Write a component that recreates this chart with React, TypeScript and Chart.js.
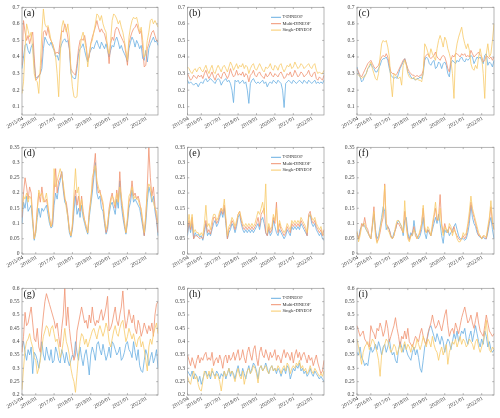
import React, { useEffect, useRef } from 'react';
import { Chart, registerables } from 'chart.js';
Chart.register(...registerables);

// ---------- categories ----------
const MONTHS: string[] = (() => {
  const out: string[] = [];
  for (let y = 2015; y <= 2022; y++) {
    for (let m = 1; m <= 12; m++) {
      if (y === 2015 && m < 4) continue;
      if (y === 2022 && m > 9) continue;
      out.push(`${y}/${String(m).padStart(2, '0')}`);
    }
  }
  return out;
})();
const X_TICK_LABELS = ['2015/04', '2016/01', '2017/01', '2018/01', '2019/01', '2020/01', '2021/01', '2022/01'];

const Y_TICKS_ROW1 = [0.1, 0.2, 0.3, 0.4, 0.5, 0.6, 0.7];
const Y_TICKS_ROW2 = [0, 0.05, 0.1, 0.15, 0.2, 0.25, 0.3, 0.35];
const Y_TICKS_ROW3 = [0.2, 0.25, 0.3, 0.35, 0.4, 0.45, 0.5, 0.55, 0.6];

const SERIES_NAMES = ['T-DINEOF', 'Multi-DINEOF', 'Single-DINEOF'];

// ---------- panel (a) ----------
const aT = [0.33,0.40,0.47,0.48,0.44,0.42,0.46,0.48,0.36, 0.27,0.28,0.28,0.30,0.33,0.45,0.52,0.50,0.48, 0.47,0.49,0.46,0.44,0.40,0.41,0.38,0.45,0.48, 0.50,0.51,0.49,0.50,0.45,0.30,0.28,0.27,0.27, 0.33,0.42,0.45,0.46,0.48,0.44,0.40,0.37,0.42, 0.44,0.46,0.45,0.48,0.50,0.47,0.45,0.49,0.47, 0.45,0.48,0.44,0.40,0.44,0.47,0.46,0.50,0.52, 0.49,0.45,0.47,0.44,0.42,0.40,0.37,0.45,0.49, 0.52,0.50,0.46,0.50,0.48,0.45,0.47,0.39,0.38, 0.44,0.37,0.45,0.48,0.50,0.52,0.49,0.50,0.47];
const aM = [0.35,0.62,0.55,0.50,0.53,0.48,0.52,0.55,0.40, 0.26,0.27,0.29,0.30,0.40,0.55,0.56,0.53,0.58, 0.52,0.50,0.48,0.45,0.42,0.43,0.42,0.50,0.56, 0.55,0.60,0.57,0.52,0.45,0.33,0.31,0.30,0.29, 0.36,0.45,0.50,0.51,0.50,0.53,0.47,0.38,0.40, 0.48,0.52,0.55,0.58,0.62,0.58,0.55,0.57,0.55, 0.54,0.50,0.47,0.36,0.48,0.52,0.50,0.56,0.58, 0.57,0.54,0.52,0.50,0.48,0.42,0.35,0.48,0.52, 0.55,0.57,0.58,0.60,0.57,0.54,0.56,0.45,0.34, 0.35,0.45,0.48,0.52,0.55,0.56,0.53,0.50,0.49];
const aS = [0.18,0.25,0.45,0.60,0.56,0.52,0.55,0.45,0.30, 0.26,0.25,0.18,0.35,0.55,0.69,0.60,0.58,0.59, 0.55,0.50,0.48,0.44,0.40,0.30,0.16,0.40,0.58, 0.62,0.58,0.55,0.60,0.52,0.32,0.22,0.16,0.155, 0.16,0.30,0.45,0.52,0.55,0.50,0.45,0.34,0.42, 0.48,0.50,0.55,0.60,0.66,0.65,0.62,0.65,0.60, 0.57,0.55,0.45,0.42,0.50,0.62,0.66,0.65,0.63, 0.60,0.62,0.58,0.55,0.50,0.44,0.38,0.52,0.58, 0.62,0.64,0.63,0.64,0.60,0.55,0.58,0.50,0.40, 0.42,0.50,0.55,0.62,0.63,0.60,0.62,0.60,0.58];

// ---------- panel (b) ----------
const bT = [0.26,0.24,0.25,0.24,0.23,0.24,0.24,0.22,0.24, 0.25,0.24,0.26,0.27,0.25,0.26,0.27,0.26,0.25, 0.24,0.26,0.27,0.26,0.23,0.25,0.26,0.27,0.25, 0.26,0.24,0.20,0.125,0.26,0.25,0.26,0.24,0.25, 0.26,0.24,0.25,0.20,0.12,0.24,0.26,0.27,0.25, 0.24,0.25,0.24,0.25,0.26,0.24,0.25,0.22,0.24, 0.25,0.24,0.26,0.25,0.24,0.26,0.25,0.24,0.20, 0.095,0.24,0.25,0.26,0.25,0.24,0.26,0.25,0.24, 0.25,0.26,0.25,0.24,0.26,0.25,0.24,0.26,0.25, 0.24,0.25,0.26,0.24,0.25,0.24,0.25,0.24,0.26];
const bM = [0.30,0.28,0.26,0.27,0.29,0.28,0.27,0.29,0.28, 0.29,0.27,0.30,0.32,0.29,0.27,0.29,0.31,0.28, 0.26,0.29,0.30,0.28,0.27,0.30,0.31,0.29,0.27, 0.29,0.33,0.30,0.28,0.29,0.32,0.29,0.30,0.29, 0.31,0.28,0.30,0.29,0.25,0.29,0.30,0.32,0.29, 0.28,0.30,0.31,0.29,0.28,0.27,0.30,0.28,0.29, 0.31,0.29,0.28,0.30,0.29,0.28,0.30,0.31,0.29, 0.27,0.28,0.30,0.29,0.31,0.28,0.29,0.32,0.30, 0.28,0.29,0.31,0.30,0.28,0.29,0.30,0.32,0.29, 0.28,0.30,0.31,0.27,0.26,0.28,0.27,0.26,0.29];
const bS = [0.34,0.33,0.31,0.30,0.32,0.33,0.31,0.33,0.34, 0.32,0.31,0.33,0.35,0.32,0.30,0.33,0.35,0.31, 0.30,0.33,0.35,0.33,0.31,0.34,0.35,0.33,0.31, 0.34,0.37,0.35,0.32,0.34,0.36,0.33,0.35,0.34, 0.36,0.33,0.35,0.34,0.30,0.33,0.35,0.36,0.33, 0.32,0.34,0.36,0.34,0.32,0.31,0.34,0.33,0.34, 0.36,0.33,0.32,0.35,0.34,0.32,0.35,0.36,0.33, 0.31,0.33,0.35,0.34,0.36,0.33,0.34,0.37,0.35, 0.33,0.34,0.36,0.35,0.33,0.34,0.35,0.36,0.34, 0.33,0.35,0.36,0.32,0.30,0.31,0.30,0.30,0.32];

// ---------- panel (c) ----------
const cT = [0.34,0.30,0.28,0.25,0.26,0.29,0.30,0.33,0.34, 0.36,0.34,0.33,0.31,0.31,0.33,0.35,0.38,0.39, 0.39,0.40,0.38,0.33,0.29,0.28,0.27,0.28,0.27, 0.30,0.33,0.35,0.37,0.39,0.36,0.31,0.30,0.28, 0.27,0.27,0.26,0.27,0.27,0.28,0.27,0.30,0.38, 0.40,0.39,0.36,0.35,0.37,0.38,0.33,0.34,0.37, 0.36,0.33,0.36,0.37,0.35,0.30,0.28,0.36,0.38, 0.37,0.36,0.38,0.37,0.39,0.40,0.38,0.37,0.39, 0.38,0.39,0.41,0.40,0.36,0.38,0.40,0.39,0.40, 0.38,0.36,0.41,0.42,0.35,0.37,0.36,0.34,0.38];
const cM = [0.33,0.31,0.29,0.28,0.30,0.32,0.34,0.36,0.37, 0.38,0.36,0.34,0.33,0.34,0.35,0.38,0.40,0.41, 0.40,0.42,0.40,0.35,0.31,0.30,0.30,0.29,0.30, 0.32,0.34,0.36,0.38,0.39,0.36,0.33,0.31,0.30, 0.29,0.29,0.28,0.29,0.28,0.29,0.29,0.32,0.40, 0.41,0.42,0.40,0.39,0.40,0.41,0.43,0.40,0.39, 0.38,0.40,0.41,0.40,0.37,0.33,0.31,0.38,0.41, 0.40,0.42,0.42,0.41,0.40,0.42,0.41,0.42,0.40, 0.41,0.40,0.44,0.42,0.40,0.41,0.42,0.43,0.41, 0.40,0.37,0.38,0.41,0.40,0.39,0.40,0.38,0.40];
const cS = [0.30,0.29,0.28,0.27,0.28,0.28,0.30,0.33,0.35, 0.37,0.33,0.30,0.27,0.26,0.30,0.40,0.48,0.50, 0.49,0.50,0.46,0.40,0.25,0.16,0.30,0.29,0.28, 0.27,0.28,0.23,0.35,0.38,0.35,0.30,0.28,0.27, 0.27,0.28,0.26,0.27,0.26,0.26,0.25,0.30,0.48, 0.46,0.43,0.40,0.45,0.42,0.40,0.38,0.45,0.50, 0.53,0.50,0.46,0.52,0.50,0.45,0.42,0.38,0.30, 0.15,0.42,0.48,0.52,0.55,0.58,0.52,0.48,0.45, 0.48,0.44,0.36,0.33,0.32,0.35,0.33,0.40,0.45, 0.40,0.30,0.15,0.42,0.48,0.40,0.42,0.50,0.60];

// ---------- panel (d) ----------
const dT = [0.10,0.17,0.15,0.19,0.14,0.15,0.16,0.10,0.045, 0.07,0.12,0.15,0.12,0.15,0.14,0.15,0.16,0.13,0.10,0.085, 0.09,0.16,0.20,0.18,0.22,0.24,0.27,0.21,0.17,0.16,0.12,0.07, 0.055,0.08,0.14,0.19,0.13,0.15,0.12,0.16,0.12,0.10,0.08,0.065, 0.12,0.16,0.20,0.25,0.30,0.20,0.18,0.19,0.15,0.14,0.10,0.065, 0.08,0.13,0.16,0.17,0.15,0.13,0.18,0.15,0.24,0.16,0.12,0.09,0.065, 0.10,0.15,0.17,0.21,0.17,0.18,0.17,0.16,0.15,0.12,0.09,0.06, 0.10,0.17,0.22,0.20,0.17,0.19,0.14,0.11,0.06];
const dM = [0.12,0.20,0.25,0.22,0.18,0.22,0.20,0.12,0.05, 0.08,0.15,0.20,0.17,0.22,0.18,0.17,0.18,0.15,0.12,0.09, 0.10,0.20,0.28,0.20,0.24,0.25,0.27,0.22,0.18,0.17,0.13,0.08, 0.06,0.09,0.17,0.21,0.16,0.19,0.14,0.19,0.14,0.11,0.09,0.07, 0.14,0.18,0.22,0.28,0.33,0.23,0.20,0.21,0.18,0.16,0.11,0.07, 0.09,0.15,0.18,0.20,0.17,0.15,0.21,0.17,0.27,0.18,0.14,0.10,0.07, 0.11,0.17,0.19,0.24,0.19,0.20,0.18,0.19,0.17,0.14,0.10,0.06, 0.12,0.22,0.35,0.25,0.19,0.22,0.16,0.12,0.07];
const dS = [0.14,0.19,0.18,0.20,0.17,0.19,0.18,0.11,0.05, 0.07,0.14,0.21,0.19,0.20,0.17,0.18,0.20,0.16,0.11,0.09, 0.12,0.28,0.22,0.24,0.26,0.28,0.26,0.23,0.19,0.15,0.12,0.08, 0.06,0.10,0.20,0.28,0.20,0.22,0.15,0.18,0.13,0.11,0.09,0.07, 0.13,0.17,0.25,0.27,0.29,0.24,0.22,0.20,0.19,0.17,0.12,0.08, 0.10,0.14,0.17,0.19,0.18,0.16,0.20,0.17,0.22,0.19,0.15,0.11,0.07, 0.12,0.19,0.20,0.22,0.18,0.19,0.18,0.18,0.16,0.15,0.11,0.07, 0.13,0.20,0.23,0.22,0.18,0.17,0.15,0.14,0.10];

// ---------- panel (e) ----------
const eT = [0.06,0.10,0.07,0.10,0.05,0.07,0.06,0.065,0.055, 0.06,0.045,0.07,0.10,0.06,0.07,0.06,0.08,0.10, 0.11,0.09,0.10,0.12,0.14,0.12,0.15,0.10,0.05, 0.07,0.08,0.10,0.09,0.07,0.09,0.12,0.13,0.10, 0.08,0.07,0.08,0.07,0.08,0.07,0.08,0.07,0.08, 0.09,0.10,0.08,0.11,0.12,0.10,0.07,0.06,0.08, 0.06,0.07,0.11,0.09,0.07,0.06,0.08,0.07,0.06, 0.05,0.06,0.08,0.07,0.06,0.09,0.08,0.09,0.08, 0.09,0.08,0.10,0.09,0.08,0.07,0.06,0.12,0.13, 0.10,0.09,0.10,0.08,0.07,0.06,0.07,0.05,0.045];
const eM = [0.07,0.11,0.08,0.12,0.05,0.06,0.06,0.055,0.05, 0.055,0.05,0.08,0.11,0.07,0.08,0.065,0.09,0.12, 0.12,0.10,0.11,0.13,0.15,0.13,0.16,0.11,0.05, 0.08,0.09,0.11,0.10,0.08,0.10,0.13,0.14,0.11, 0.09,0.08,0.09,0.08,0.09,0.08,0.09,0.08,0.09, 0.10,0.12,0.09,0.13,0.14,0.15,0.07,0.06,0.09, 0.07,0.08,0.12,0.10,0.17,0.07,0.10,0.08,0.07, 0.06,0.07,0.09,0.08,0.07,0.10,0.09,0.10,0.09, 0.10,0.09,0.11,0.10,0.09,0.08,0.06,0.13,0.14, 0.11,0.10,0.11,0.09,0.08,0.07,0.08,0.06,0.08];
const eS = [0.09,0.13,0.09,0.13,0.07,0.08,0.07,0.07,0.06, 0.07,0.06,0.10,0.16,0.09,0.10,0.08,0.11,0.13, 0.13,0.11,0.12,0.14,0.15,0.14,0.18,0.12,0.06, 0.09,0.10,0.12,0.11,0.09,0.11,0.13,0.14,0.12, 0.10,0.09,0.10,0.09,0.10,0.09,0.10,0.09,0.10, 0.12,0.14,0.13,0.15,0.17,0.13,0.23,0.07,0.10, 0.08,0.09,0.13,0.11,0.15,0.08,0.11,0.09,0.08, 0.07,0.08,0.10,0.09,0.08,0.11,0.10,0.11,0.10, 0.11,0.10,0.12,0.11,0.10,0.09,0.07,0.12,0.13, 0.12,0.11,0.12,0.10,0.09,0.08,0.09,0.07,0.06];

// ---------- panel (f) ----------
const fT = [0.07,0.05,0.08,0.09,0.10,0.09,0.08,0.07,0.06, 0.05,0.09,0.13,0.08,0.05,0.06,0.09,0.12,0.155, 0.14,0.08,0.09,0.08,0.06,0.05,0.07,0.08,0.10, 0.11,0.10,0.09,0.06,0.11,0.12,0.07,0.05,0.07, 0.06,0.11,0.07,0.06,0.05,0.06,0.08,0.12,0.07, 0.05,0.08,0.07,0.06,0.08,0.10,0.12,0.10,0.13,0.10,0.06,0.035, 0.08,0.07,0.08,0.06,0.07,0.08,0.09,0.10,0.08,0.06,0.05,0.05, 0.05,0.045,0.05,0.07,0.10,0.16,0.12,0.10,0.09,0.07,0.06,0.055, 0.05,0.055,0.05,0.05,0.07,0.10,0.12,0.08,0.05];
const fM = [0.07,0.05,0.07,0.10,0.09,0.12,0.09,0.08,0.06, 0.05,0.10,0.155,0.07,0.04,0.05,0.07,0.10,0.12, 0.23,0.10,0.09,0.08,0.06,0.05,0.06,0.08,0.10, 0.10,0.09,0.08,0.07,0.14,0.10,0.06,0.045,0.06, 0.07,0.09,0.06,0.05,0.06,0.07,0.10,0.15,0.08, 0.07,0.08,0.07,0.06,0.09,0.12,0.15,0.11,0.12,0.195,0.10,0.07, 0.10,0.08,0.07,0.09,0.08,0.07,0.09,0.07,0.06,0.05,0.045,0.05, 0.06,0.05,0.06,0.09,0.12,0.17,0.14,0.12,0.10,0.08,0.06,0.06, 0.05,0.06,0.055,0.05,0.08,0.11,0.155,0.10,0.08];
const fS = [0.075,0.04,0.06,0.09,0.10,0.10,0.08,0.07,0.06, 0.05,0.09,0.14,0.06,0.035,0.05,0.08,0.11,0.14, 0.225,0.10,0.08,0.07,0.055,0.05,0.06,0.09,0.11, 0.11,0.10,0.09,0.07,0.175,0.09,0.05,0.04,0.06, 0.06,0.08,0.07,0.05,0.06,0.08,0.10,0.16,0.09, 0.07,0.09,0.08,0.06,0.10,0.13,0.17,0.12,0.11,0.15,0.09,0.06, 0.09,0.08,0.07,0.10,0.09,0.06,0.08,0.07,0.05,0.04,0.04,0.05, 0.07,0.06,0.07,0.10,0.14,0.19,0.15,0.13,0.11,0.09,0.07,0.06, 0.05,0.06,0.06,0.055,0.09,0.12,0.175,0.11,0.08];

// ---------- panel (g) ----------
const gT = [0.38,0.40,0.36,0.33,0.37,0.35,0.38,0.28,0.36, 0.35,0.33,0.30,0.34,0.40,0.35,0.33,0.38,0.35, 0.33,0.37,0.32,0.33,0.38,0.36,0.33,0.32,0.37, 0.35,0.32,0.36,0.33,0.31,0.33,0.35,0.34,0.40, 0.36,0.33,0.38,0.34,0.31,0.35,0.37,0.33,0.275, 0.35,0.38,0.36,0.33,0.39,0.40,0.37,0.35,0.39, 0.36,0.33,0.35,0.38,0.34,0.40,0.39,0.37,0.35, 0.36,0.38,0.33,0.34,0.36,0.39,0.40,0.37,0.36, 0.34,0.40,0.36,0.33,0.37,0.31,0.29,0.285,0.33, 0.37,0.35,0.31,0.34,0.36,0.32,0.34,0.37,0.30];
const gM = [0.36,0.42,0.51,0.46,0.47,0.50,0.53,0.47,0.41, 0.40,0.45,0.38,0.36,0.44,0.50,0.55,0.58,0.56, 0.54,0.52,0.50,0.48,0.45,0.47,0.42,0.38,0.45, 0.50,0.60,0.46,0.53,0.45,0.40,0.36,0.33,0.35, 0.44,0.47,0.50,0.53,0.50,0.47,0.48,0.45,0.50, 0.47,0.53,0.48,0.46,0.48,0.47,0.50,0.52,0.48, 0.50,0.53,0.57,0.44,0.45,0.47,0.50,0.53,0.48, 0.46,0.50,0.53,0.59,0.50,0.45,0.48,0.52,0.49, 0.47,0.50,0.45,0.43,0.48,0.46,0.42,0.44,0.47, 0.45,0.43,0.46,0.44,0.47,0.42,0.50,0.54,0.55];
const gS = [0.22,0.30,0.37,0.40,0.41,0.43,0.40,0.38,0.34, 0.33,0.28,0.30,0.33,0.38,0.42,0.44,0.46,0.45, 0.42,0.45,0.46,0.43,0.40,0.41,0.38,0.34,0.36, 0.40,0.45,0.40,0.38,0.35,0.30,0.27,0.25,0.21, 0.28,0.35,0.40,0.43,0.42,0.39,0.41,0.38,0.40, 0.42,0.44,0.45,0.43,0.41,0.44,0.46,0.44,0.42, 0.44,0.47,0.45,0.40,0.38,0.41,0.44,0.46,0.43, 0.42,0.45,0.47,0.48,0.44,0.40,0.42,0.45,0.43, 0.41,0.43,0.40,0.38,0.41,0.42,0.38,0.40,0.37, 0.33,0.29,0.38,0.41,0.39,0.43,0.45,0.47,0.43];

// ---------- panel (h) ----------
const hT = [0.29,0.28,0.27,0.29,0.26,0.28,0.27,0.25,0.27, 0.24,0.26,0.28,0.29,0.27,0.28,0.26,0.29,0.28, 0.27,0.29,0.28,0.26,0.28,0.27,0.29,0.26,0.28, 0.30,0.27,0.29,0.28,0.26,0.29,0.31,0.28,0.27, 0.30,0.28,0.26,0.29,0.31,0.28,0.30,0.32,0.31, 0.29,0.26,0.30,0.31,0.29,0.30,0.32,0.30,0.28, 0.30,0.31,0.29,0.30,0.28,0.30,0.29,0.27,0.29, 0.30,0.28,0.31,0.30,0.26,0.28,0.30,0.29,0.31, 0.30,0.32,0.29,0.30,0.28,0.29,0.27,0.28,0.30, 0.28,0.27,0.29,0.28,0.27,0.26,0.27,0.26,0.25];
const hM = [0.35,0.33,0.31,0.34,0.32,0.30,0.33,0.35,0.32, 0.34,0.33,0.35,0.36,0.33,0.34,0.33,0.36,0.31, 0.33,0.34,0.32,0.35,0.33,0.30,0.34,0.35,0.32, 0.35,0.33,0.34,0.36,0.33,0.35,0.37,0.33,0.34, 0.37,0.34,0.32,0.36,0.38,0.35,0.33,0.37,0.385, 0.34,0.31,0.36,0.38,0.35,0.34,0.37,0.35,0.33, 0.36,0.34,0.35,0.37,0.33,0.35,0.34,0.32,0.35, 0.37,0.34,0.36,0.35,0.33,0.36,0.32,0.35,0.37, 0.34,0.36,0.33,0.35,0.36,0.34,0.32,0.35,0.33, 0.34,0.31,0.33,0.35,0.32,0.30,0.28,0.29,0.33];
const hS = [0.27,0.25,0.24,0.27,0.29,0.26,0.27,0.24,0.22, 0.215,0.25,0.29,0.28,0.26,0.29,0.27,0.30,0.28, 0.26,0.28,0.27,0.25,0.215,0.26,0.29,0.27,0.28, 0.30,0.28,0.29,0.27,0.25,0.28,0.30,0.27,0.26, 0.29,0.24,0.27,0.29,0.30,0.28,0.29,0.31,0.30, 0.28,0.245,0.30,0.31,0.29,0.30,0.31,0.29,0.28, 0.30,0.31,0.29,0.30,0.29,0.31,0.30,0.28,0.30, 0.31,0.29,0.32,0.31,0.28,0.30,0.31,0.30,0.32, 0.31,0.33,0.30,0.31,0.29,0.30,0.28,0.29,0.31, 0.29,0.28,0.30,0.29,0.28,0.27,0.28,0.27,0.29];

// ---------- panel (i) ----------
const iT = [0.36,0.35,0.38,0.34,0.33,0.31,0.32,0.31,0.35, 0.38,0.36,0.37,0.39,0.37,0.40,0.38,0.35,0.38, 0.39,0.36,0.38,0.41,0.37,0.35,0.36,0.33,0.32, 0.37,0.40,0.38,0.36,0.39,0.37,0.35,0.34,0.33, 0.36,0.38,0.35,0.37,0.34,0.30,0.285,0.33,0.38, 0.40,0.42,0.45,0.46,0.44,0.42,0.40,0.43,0.41, 0.39,0.42,0.40,0.36,0.39,0.41,0.40,0.37,0.40, 0.43,0.41,0.44,0.40,0.42,0.44,0.43,0.45,0.41, 0.39,0.42,0.44,0.40,0.43,0.46,0.43,0.40,0.38, 0.41,0.39,0.44,0.42,0.38,0.40,0.37,0.36,0.37];
const iM = [0.46,0.44,0.42,0.43,0.44,0.41,0.40,0.39,0.38, 0.46,0.44,0.43,0.41,0.45,0.44,0.47,0.45,0.42, 0.44,0.48,0.45,0.40,0.42,0.44,0.46,0.49,0.45, 0.42,0.38,0.42,0.41,0.44,0.41,0.45,0.40,0.39, 0.38,0.40,0.42,0.41,0.40,0.43,0.45,0.42,0.40, 0.39,0.43,0.45,0.47,0.50,0.47,0.45,0.46,0.48, 0.46,0.44,0.47,0.50,0.52,0.46,0.42,0.44,0.45, 0.43,0.47,0.45,0.43,0.46,0.49,0.51,0.53,0.50, 0.47,0.48,0.50,0.47,0.45,0.48,0.51,0.47,0.44, 0.43,0.42,0.46,0.50,0.47,0.44,0.43,0.42,0.43];
const iS = [0.41,0.38,0.35,0.315,0.36,0.38,0.39,0.40,0.37, 0.39,0.41,0.40,0.38,0.36,0.33,0.27,0.35,0.37, 0.39,0.41,0.40,0.38,0.36,0.37,0.39,0.38,0.35, 0.37,0.39,0.36,0.38,0.40,0.37,0.39,0.38,0.36, 0.39,0.37,0.38,0.41,0.39,0.37,0.39,0.42,0.40, 0.38,0.41,0.40,0.38,0.42,0.39,0.37,0.36,0.33, 0.36,0.38,0.35,0.37,0.39,0.315,0.36,0.38,0.40, 0.39,0.41,0.38,0.40,0.42,0.39,0.41,0.40,0.38, 0.39,0.41,0.40,0.39,0.37,0.40,0.41,0.38,0.36, 0.38,0.40,0.43,0.48,0.41,0.37,0.36,0.38,0.37];

// ---------- styling ----------
const COLORS = ['rgb(104,174,226)', 'rgb(240,146,112)', 'rgb(248,202,104)'];
const FONT = '"Liberation Serif", "Times New Roman", serif';
const COL_X: [number, number][] = [[22, 158], [187.5, 324], [357, 494]];
const ROW_Y: [number, number][] = [[7.3, 115], [147.3, 254], [288.3, 395]];

type Panel = {
  tag: string; T: number[]; M: number[]; S: number[];
  min: number; max: number; ticks: number[]; col: number; row: number; legend: boolean;
};

const PANELS: Panel[] = [
  { tag: '(a)', T: aT, M: aM, S: aS, min: 0.05, max: 0.7, ticks: Y_TICKS_ROW1, col: 0, row: 0, legend: false },
  { tag: '(b)', T: bT, M: bM, S: bS, min: 0.05, max: 0.7, ticks: Y_TICKS_ROW1, col: 1, row: 0, legend: true },
  { tag: '(c)', T: cT, M: cM, S: cS, min: 0.05, max: 0.7, ticks: Y_TICKS_ROW1, col: 2, row: 0, legend: false },
  { tag: '(d)', T: dT, M: dM, S: dS, min: 0, max: 0.35, ticks: Y_TICKS_ROW2, col: 0, row: 1, legend: false },
  { tag: '(e)', T: eT, M: eM, S: eS, min: 0, max: 0.35, ticks: Y_TICKS_ROW2, col: 1, row: 1, legend: true },
  { tag: '(f)', T: fT, M: fM, S: fS, min: 0, max: 0.35, ticks: Y_TICKS_ROW2, col: 2, row: 1, legend: false },
  { tag: '(g)', T: gT, M: gM, S: gS, min: 0.2, max: 0.6, ticks: Y_TICKS_ROW3, col: 0, row: 2, legend: false },
  { tag: '(h)', T: hT, M: hM, S: hS, min: 0.2, max: 0.6, ticks: Y_TICKS_ROW3, col: 1, row: 2, legend: true },
  { tag: '(i)', T: iT, M: iM, S: iS, min: 0.2, max: 0.6, ticks: Y_TICKS_ROW3, col: 2, row: 2, legend: false },
];

const W = 500;
const H = 418;

function fmt(v: number) {
  return String(+v.toFixed(2));
}

function PanelChart({ p }: { p: Panel }) {
  const ref = useRef<HTMLCanvasElement | null>(null);
  useEffect(() => {
    if (!ref.current) return;
    const [L, R] = COL_X[p.col];
    const [T, B] = ROW_Y[p.row];
    const axesPlugin = {
      id: 'axesPlugin',
      afterDraw(chart: any) {
        const ctx = chart.ctx as CanvasRenderingContext2D;
        const a = chart.chartArea;
        const xs = chart.scales.x;
        const ys = chart.scales.y;
        ctx.save();
        ctx.strokeStyle = '#959595';
        ctx.lineWidth = 0.7;
        ctx.strokeRect(a.left, a.top, a.right - a.left, a.bottom - a.top);
        ctx.font = `5.6px ${FONT}`;
        ctx.fillStyle = '#444';
        ctx.textAlign = 'right';
        ctx.textBaseline = 'middle';
        p.ticks.forEach((v) => {
          const y = ys.getPixelForValue(v);
          ctx.beginPath();
          ctx.moveTo(a.left, y); ctx.lineTo(a.left + 1.8, y);
          ctx.moveTo(a.right, y); ctx.lineTo(a.right - 1.8, y);
          ctx.stroke();
          ctx.fillText(fmt(v), a.left - 2.5, y);
        });
        X_TICK_LABELS.forEach((lab) => {
          const idx = MONTHS.indexOf(lab);
          const x = xs.getPixelForValue(idx);
          ctx.beginPath();
          ctx.moveTo(x, a.bottom); ctx.lineTo(x, a.bottom - 1.8);
          ctx.moveTo(x, a.top); ctx.lineTo(x, a.top + 1.8);
          ctx.stroke();
          ctx.save();
          ctx.translate(x + 1, a.bottom + 3);
          ctx.rotate(-Math.PI / 6);
          ctx.textAlign = 'right';
          ctx.textBaseline = 'middle';
          ctx.fillText(lab, 0, 0);
          ctx.restore();
        });
        ctx.font = `10px ${FONT}`;
        ctx.fillStyle = '#1a1a1a';
        ctx.textAlign = 'left';
        ctx.textBaseline = 'top';
        ctx.fillText(p.tag, a.left + 1.5, a.top + 1.5);
        if (p.legend) {
          ctx.font = `4.5px ${FONT}`;
          ctx.textBaseline = 'middle';
          SERIES_NAMES.forEach((name, k) => {
            const y = a.top + 10 + k * 6.4;
            ctx.strokeStyle = COLORS[k];
            ctx.lineWidth = 1;
            ctx.beginPath();
            ctx.moveTo(a.right - 53, y); ctx.lineTo(a.right - 43, y);
            ctx.stroke();
            ctx.fillStyle = '#2a2a2a';
            ctx.fillText(name, a.right - 41.5, y);
          });
        }
        ctx.restore();
      },
    };
    const chart = new Chart(ref.current, {
      type: 'line',
      data: {
        labels: MONTHS,
        datasets: [p.T, p.M, p.S].map((d, k) => ({
          label: SERIES_NAMES[k],
          data: d,
          borderColor: COLORS[k],
          borderWidth: 0.8,
          pointRadius: 0,
          tension: 0,
          fill: false,
          order: 3 - k,
        })),
      },
      options: {
        responsive: false,
        animation: false,
        devicePixelRatio: 1,
        layout: { padding: { left: L, right: W - R, top: T, bottom: H - B } },
        plugins: { legend: { display: false }, tooltip: { enabled: false } },
        events: [],
        scales: {
          x: { type: 'category', display: false, offset: false },
          y: { type: 'linear', display: false, min: p.min, max: p.max },
        },
      },
      plugins: [axesPlugin],
    } as any);
    return () => chart.destroy();
  }, [p]);
  return (
    <canvas
      ref={ref}
      width={W}
      height={H}
      style={{ position: 'absolute', left: 0, top: 0, width: W, height: H }}
    />
  );
}

export default function App() {
  return (
    <div style={{ position: 'absolute', left: 0, top: 0, width: W, height: H, background: '#fff' }}>
      {PANELS.map((p) => (
        <PanelChart key={p.tag} p={p} />
      ))}
    </div>
  );
}
